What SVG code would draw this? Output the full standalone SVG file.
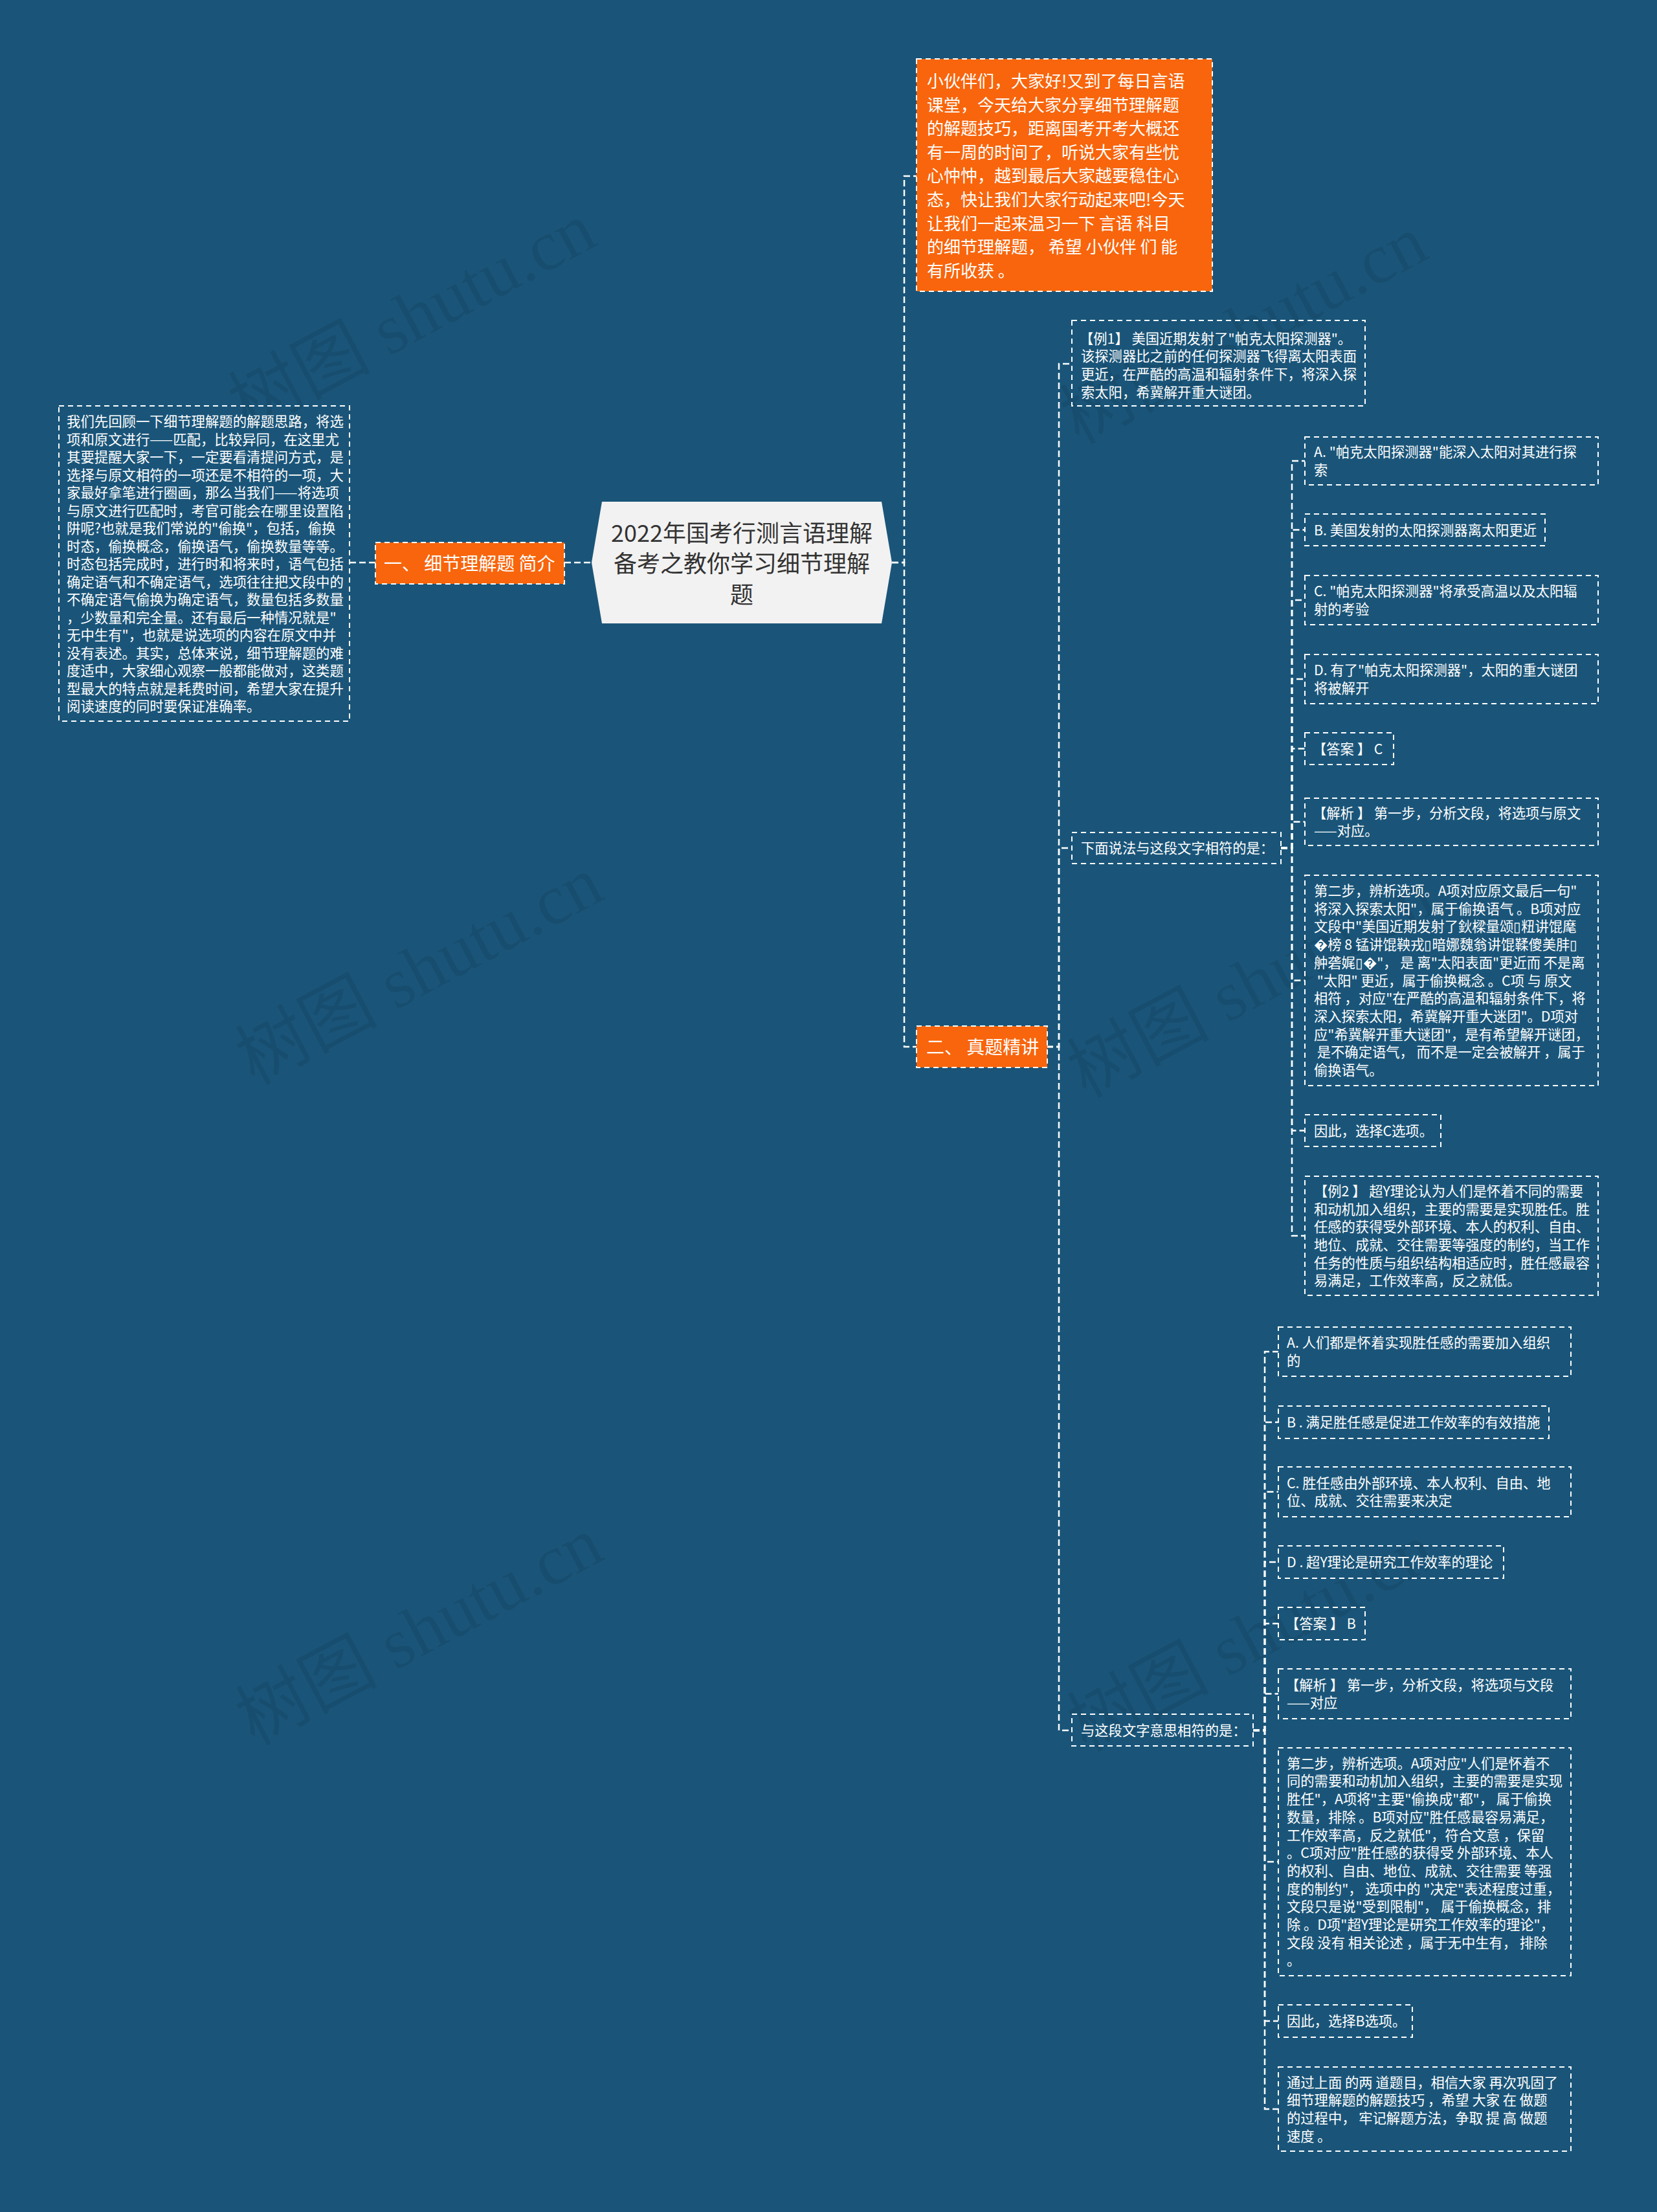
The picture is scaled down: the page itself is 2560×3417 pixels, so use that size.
<svg xmlns="http://www.w3.org/2000/svg" width="2560" height="3417" viewBox="0 0 2560 3417">
<style>
.bg{fill:#1a5579}
.box{fill:none;stroke:#ffffff;stroke-width:2;stroke-dasharray:8 6}
.obox{fill:#f8650c;stroke:#ffffff;stroke-width:2;stroke-dasharray:8 6}
.t{font-family:"Noto Sans CJK SC","Noto Sans",sans-serif;fill:#ffffff}
.s{font-size:21.3px}
.conn{fill:none;stroke:#ffffff;stroke-width:2.5;stroke-dasharray:10 5}
.wm{font-family:"Liberation Serif","Noto Sans CJK SC",serif;font-size:110px;fill:#000000;fill-opacity:0.08}
</style>
<rect class="bg" x="0" y="0" width="2560" height="3417"/>
<g id="watermarks">
<text class="wm" text-anchor="middle" transform="translate(654,522) rotate(-28)">树图 shutu.cn</text>
<text class="wm" text-anchor="middle" transform="translate(1939,542) rotate(-28)">树图 shutu.cn</text>
<text class="wm" text-anchor="middle" transform="translate(665,1532) rotate(-28)">树图 shutu.cn</text>
<text class="wm" text-anchor="middle" transform="translate(1950,1552) rotate(-28)">树图 shutu.cn</text>
<text class="wm" text-anchor="middle" transform="translate(665,2552) rotate(-28)">树图 shutu.cn</text>
<text class="wm" text-anchor="middle" transform="translate(1950,2562) rotate(-28)">树图 shutu.cn</text>
</g>
<g id="connectors">
<path class="conn" d="M540 869H580"/>
<path class="conn" d="M872 869H914"/>
<path class="conn" d="M1378 869H1397V272H1416"/>
<path class="conn" d="M1378 869H1397V1617H1416"/>
<path class="conn" d="M1617 1617H1636V562H1656"/>
<path class="conn" d="M1617 1617H1636V1310H1656"/>
<path class="conn" d="M1617 1617H1636V2673H1656"/>
<path class="conn" d="M1979 1310H1996V712H2016"/>
<path class="conn" d="M1979 1310H1996V818.5H2016"/>
<path class="conn" d="M1979 1310H1996V927H2016"/>
<path class="conn" d="M1979 1310H1996V1049H2016"/>
<path class="conn" d="M1979 1310H1996V1156.5H2016"/>
<path class="conn" d="M1979 1310H1996V1269.5H2016"/>
<path class="conn" d="M1979 1310H1996V1514.5H2016"/>
<path class="conn" d="M1979 1310H1996V1746.5H2016"/>
<path class="conn" d="M1979 1310H1996V1909H2016"/>
<path class="conn" d="M1936 2673H1954V2088H1975"/>
<path class="conn" d="M1936 2673H1954V2197H1975"/>
<path class="conn" d="M1936 2673H1954V2304.5H1975"/>
<path class="conn" d="M1936 2673H1954V2413H1975"/>
<path class="conn" d="M1936 2673H1954V2508H1975"/>
<path class="conn" d="M1936 2673H1954V2616.5H1975"/>
<path class="conn" d="M1936 2673H1954V2876H1975"/>
<path class="conn" d="M1936 2673H1954V3122H1975"/>
<path class="conn" d="M1936 2673H1954V3258H1975"/>
</g>
<g id="root">
<polygon points="914,869 930,775 1362,775 1378,869 1362,963 930,963" fill="#f2f2f2"/>
<text class="t" style="fill:#333333;font-size:36px" text-anchor="middle"><tspan x="1146" y="836.5">2022年国考行测言语理解</tspan><tspan x="1146" y="884">备考之教你学习细节理解</tspan><tspan x="1146" y="931.5">题</tspan></text>
</g>
<g id="n-intro">
<rect class="obox" x="580" y="838" width="292" height="64"/>
<text class="t" style="font-size:28px" x="593" y="880.5" xml:space="preserve">一、 细节理解题 简介</text>
</g>
<g id="n-intro-text">
<rect class="box" x="91" y="627" width="449" height="487"/>
<text class="t" style="font-size:21.4px"><tspan x="103" y="659">我们先回顾一下细节理解题的解题思路，将选</tspan><tspan x="103" y="686.5">项和原文进行——匹配，比较异同，在这里尤</tspan><tspan x="103" y="714">其要提醒大家一下，一定要看清提问方式，是</tspan><tspan x="103" y="741.5">选择与原文相符的一项还是不相符的一项，大</tspan><tspan x="103" y="769">家最好拿笔进行圈画，那么当我们——将选项</tspan><tspan x="103" y="796.5">与原文进行匹配时，考官可能会在哪里设置陷</tspan><tspan x="103" y="824">阱呢?也就是我们常说的"偷换"，包括，偷换</tspan><tspan x="103" y="851.5">时态，偷换概念，偷换语气，偷换数量等等。</tspan><tspan x="103" y="879">时态包括完成时，进行时和将来时，语气包括</tspan><tspan x="103" y="906.5">确定语气和不确定语气，选项往往把文段中的</tspan><tspan x="103" y="934">不确定语气偷换为确定语气，数量包括多数量</tspan><tspan x="103" y="961.5">，少数量和完全量。还有最后一种情况就是"</tspan><tspan x="103" y="989">无中生有"，也就是说选项的内容在原文中并</tspan><tspan x="103" y="1016.5">没有表述。其实，总体来说，细节理解题的难</tspan><tspan x="103" y="1044">度适中，大家细心观察一般都能做对，这类题</tspan><tspan x="103" y="1071.5">型最大的特点就是耗费时间，希望大家在提升</tspan><tspan x="103" y="1099">阅读速度的同时要保证准确率。</tspan></text>
</g>
<g id="n-welcome">
<rect class="obox" x="1416" y="91" width="457" height="359"/>
<text class="t" style="font-size:26px" xml:space="preserve"><tspan x="1432" y="135">小伙伴们，大家好!又到了每日言语</tspan><tspan x="1432" y="171.6">课堂，今天给大家分享细节理解题</tspan><tspan x="1432" y="208.2">的解题技巧，距离国考开考大概还</tspan><tspan x="1432" y="244.8">有一周的时间了，听说大家有些忧</tspan><tspan x="1432" y="281.4">心忡忡，越到最后大家越要稳住心</tspan><tspan x="1432" y="318">态，快让我们大家行动起来吧!今天</tspan><tspan x="1432" y="354.6">让我们一起来温习一下 言语 科目</tspan><tspan x="1432" y="391.2">的细节理解题， 希望 小伙伴 们 能</tspan><tspan x="1432" y="427.8">有所收获 。</tspan></text>
</g>
<g id="n-real">
<rect class="obox" x="1416" y="1585" width="202" height="64"/>
<text class="t" style="font-size:28px" x="1431" y="1627.5" xml:space="preserve">二、 真题精讲</text>
</g>
<g id="n-ex1">
<rect class="box" x="1656" y="495" width="453" height="132"/>
<text class="t s" xml:space="preserve"><tspan x="1668" y="530.5">【例1】 美国近期发射了"帕克太阳探测器"。</tspan><tspan x="1670" y="558.2">该探测器比之前的任何探测器飞得离太阳表面</tspan><tspan x="1670" y="585.9">更近，在严酷的高温和辐射条件下，将深入探</tspan><tspan x="1670" y="613.6">索太阳，希冀解开重大谜团。</tspan></text>
</g>
<g id="n-q1">
<rect class="box" x="1656" y="1286" width="323" height="48"/>
<text class="t s" x="1670" y="1318">下面说法与这段文字相符的是：</text>
</g>
<g id="n-q1-a">
<rect class="box" x="2016" y="675" width="453" height="74"/>
<text class="t s"><tspan x="2030" y="706">A. "帕克太阳探测器"能深入太阳对其进行探</tspan><tspan x="2030" y="733.7">索</tspan></text>
</g>
<g id="n-q1-b">
<rect class="box" x="2016" y="794" width="371" height="49"/>
<text class="t s" x="2030" y="826.5">B. 美国发射的太阳探测器离太阳更近</text>
</g>
<g id="n-q1-c">
<rect class="box" x="2016" y="889" width="453" height="76"/>
<text class="t s"><tspan x="2030" y="921">C. "帕克太阳探测器"将承受高温以及太阳辐</tspan><tspan x="2030" y="948.7">射的考验</tspan></text>
</g>
<g id="n-q1-d">
<rect class="box" x="2016" y="1011" width="453" height="76"/>
<text class="t s"><tspan x="2030" y="1043.2">D. 有了"帕克太阳探测器"，太阳的重大谜团</tspan><tspan x="2030" y="1070.9">将被解开</tspan></text>
</g>
<g id="n-q1-ans">
<rect class="box" x="2016" y="1132" width="137" height="49"/>
<text class="t s" x="2028" y="1164.5" xml:space="preserve">【答案 】 C</text>
</g>
<g id="n-q1-step1">
<rect class="box" x="2016" y="1233" width="453" height="73"/>
<text class="t s" xml:space="preserve"><tspan x="2028" y="1263.7">【解析 】 第一步，分析文段，将选项与原文</tspan><tspan x="2030" y="1291.4">——对应。</tspan></text>
</g>
<g id="n-q1-step2">
<rect class="box" x="2016" y="1352" width="453" height="325"/>
<text class="t s" xml:space="preserve"><tspan x="2030" y="1384">第二步，辨析选项。A项对应原文最后一句"</tspan><tspan x="2030" y="1411.7">将深入探索太阳"，属于偷换语气 。B项对应</tspan><tspan x="2030" y="1439.4">文段中"美国近期发射了鈥樑量颂▯粈讲馄麾</tspan><tspan x="2030" y="1467.1">�榜 8 锰讲馄鞅戎▯暗娜魏翁讲馄鞣傻美肨▯</tspan><tspan x="2030" y="1494.8">舯砻娓▯�"， 是 离"太阳表面"更近而 不是离</tspan><tspan x="2030" y="1522.5"> "太阳" 更近，属于偷换概念 。C项 与 原文</tspan><tspan x="2030" y="1550.2">相符 ，对应"在严酷的高温和辐射条件下，将</tspan><tspan x="2030" y="1577.9">深入探索太阳，希冀解开重大迷团"。D项对</tspan><tspan x="2030" y="1605.6">应"希冀解开重大谜团"，是有希望解开谜团，</tspan><tspan x="2030" y="1633.3"> 是不确定语气， 而不是一定会被解开 ，属于</tspan><tspan x="2030" y="1661">偷换语气。</tspan></text>
</g>
<g id="n-q1-concl">
<rect class="box" x="2016" y="1722" width="210" height="49"/>
<text class="t s" x="2030" y="1754.5">因此，选择C选项。</text>
</g>
<g id="n-ex2">
<rect class="box" x="2016" y="1817" width="453" height="184"/>
<text class="t s" xml:space="preserve"><tspan x="2030" y="1847.8">【例2 】 超Y理论认为人们是怀着不同的需要</tspan><tspan x="2030" y="1875.5">和动机加入组织，主要的需要是实现胜任。胜</tspan><tspan x="2030" y="1903.2">任感的获得受外部环境、本人的权利、自由、</tspan><tspan x="2030" y="1930.9">地位、成就、交往需要等强度的制约，当工作</tspan><tspan x="2030" y="1958.6">任务的性质与组织结构相适应时，胜任感最容</tspan><tspan x="2030" y="1986.3">易满足，工作效率高，反之就低。</tspan></text>
</g>
<g id="n-q2">
<rect class="box" x="1656" y="2648" width="280" height="49"/>
<text class="t s" x="1670" y="2681">与这段文字意思相符的是：</text>
</g>
<g id="n-q2-a">
<rect class="box" x="1975" y="2050" width="452" height="76"/>
<text class="t s"><tspan x="1988" y="2082.2">A. 人们都是怀着实现胜任感的需要加入组织</tspan><tspan x="1988" y="2109.9">的</tspan></text>
</g>
<g id="n-q2-b">
<rect class="box" x="1975" y="2172" width="418" height="50"/>
<text class="t s" x="1988" y="2205" xml:space="preserve">B . 满足胜任感是促进工作效率的有效措施</text>
</g>
<g id="n-q2-c">
<rect class="box" x="1975" y="2266" width="452" height="77"/>
<text class="t s"><tspan x="1988" y="2298.7">C. 胜任感由外部环境、本人权利、自由、地</tspan><tspan x="1988" y="2326.4">位、成就、交往需要来决定</tspan></text>
</g>
<g id="n-q2-d">
<rect class="box" x="1975" y="2388" width="348" height="50"/>
<text class="t s" x="1988" y="2421" xml:space="preserve">D . 超Y理论是研究工作效率的理论</text>
</g>
<g id="n-q2-ans">
<rect class="box" x="1975" y="2483" width="134" height="50"/>
<text class="t s" x="1986" y="2516" xml:space="preserve">【答案 】 B</text>
</g>
<g id="n-q2-step1">
<rect class="box" x="1975" y="2578" width="452" height="77"/>
<text class="t s" xml:space="preserve"><tspan x="1986" y="2610.7">【解析 】 第一步，分析文段，将选项与文段</tspan><tspan x="1988" y="2638.4">——对应</tspan></text>
</g>
<g id="n-q2-step2">
<rect class="box" x="1975" y="2700" width="452" height="352"/>
<text class="t s" xml:space="preserve"><tspan x="1988" y="2731.7">第二步，辨析选项。A项对应"人们是怀着不</tspan><tspan x="1988" y="2759.4">同的需要和动机加入组织，主要的需要是实现</tspan><tspan x="1988" y="2787.1">胜任"，A项将"主要"偷换成"都"， 属于偷换</tspan><tspan x="1988" y="2814.8">数量，排除 。B项对应"胜任感最容易满足，</tspan><tspan x="1988" y="2842.5">工作效率高，反之就低"，符合文意 ，保留</tspan><tspan x="1988" y="2870.2">。C项对应"胜任感的获得受 外部环境、本人</tspan><tspan x="1988" y="2897.9">的权利、自由、地位、成就、交往需要 等强</tspan><tspan x="1988" y="2925.6">度的制约"， 选项中的 "决定"表述程度过重，</tspan><tspan x="1988" y="2953.3">文段只是说"受到限制"， 属于偷换概念，排</tspan><tspan x="1988" y="2981">除 。D项"超Y理论是研究工作效率的理论"，</tspan><tspan x="1988" y="3008.7">文段 没有 相关论述 ，属于无中生有， 排除</tspan><tspan x="1988" y="3036.4">。</tspan></text>
</g>
<g id="n-q2-concl">
<rect class="box" x="1975" y="3097" width="207" height="50"/>
<text class="t s" x="1988" y="3130">因此，选择B选项。</text>
</g>
<g id="n-summary">
<rect class="box" x="1975" y="3193" width="452" height="130"/>
<text class="t s" xml:space="preserve"><tspan x="1988" y="3224.5">通过上面 的两 道题目，相信大家 再次巩固了</tspan><tspan x="1988" y="3252.2">细节理解题的解题技巧 ，希望 大家 在 做题</tspan><tspan x="1988" y="3279.9">的过程中， 牢记解题方法，争取 提 高 做题</tspan><tspan x="1988" y="3307.6">速度 。</tspan></text>
</g>
</svg>
